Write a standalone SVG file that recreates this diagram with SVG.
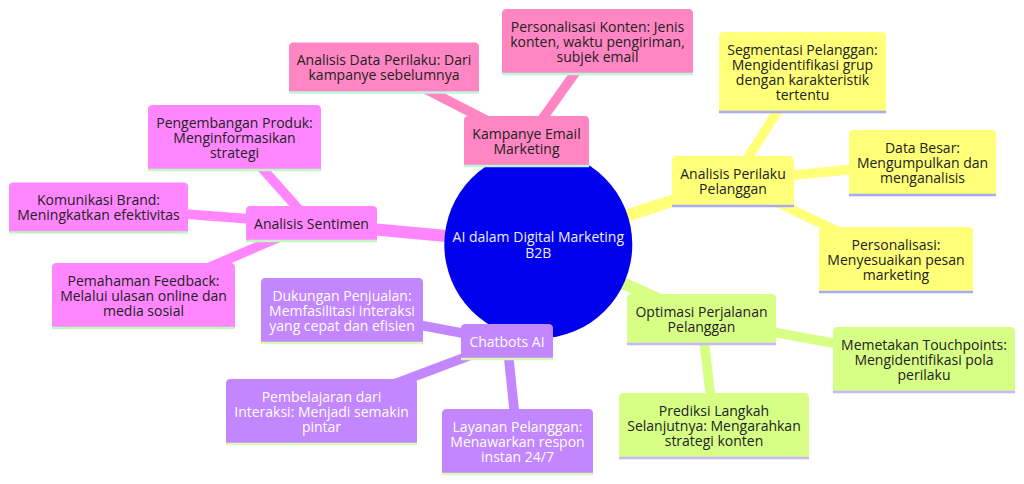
<svg xmlns="http://www.w3.org/2000/svg" width="1024" height="484" viewBox="0 0 1024 484">
<style>
text{font-family:"Open Sans","DejaVu Sans",sans-serif;font-size:14px;text-anchor:middle;fill:#222}
.e1{stroke-width:12.25;stroke-linecap:butt;fill:none}
.e2{stroke-width:9.6;stroke-linecap:butt;fill:none}
.bl{stroke-width:2.6}
.s0 path{fill:#ffff78}.s0 line{stroke:#a9a9f5}.se0{stroke:#ffff78}
.s1 path{fill:#d7ff86}.s1 line{stroke:#c9b6ff}.se1{stroke:#d7ff86}
.s2 path{fill:#c286ff}.s2 line{stroke:#d8fbb8}.se2{stroke:#c286ff}.s2 text{fill:#ffffff}
.s3 path{fill:#ff86ff}.s3 line{stroke:#c2f7c2}.se3{stroke:#ff86ff}
.s4 path{fill:#ff86c2}.s4 line{stroke:#bff5dc}.se4{stroke:#ff86c2}
</style>
<g id="connectors">
<line class="e1 se0" x1="538.3" y1="244.5" x2="733" y2="181"/>
<line class="e2 se0" x1="733" y1="181" x2="802.5" y2="72"/>
<line class="e2 se0" x1="733" y1="181" x2="922.5" y2="162.5"/>
<line class="e2 se0" x1="733" y1="181" x2="896" y2="259.5"/>
<line class="e1 se1" x1="538.3" y1="244.5" x2="701.5" y2="319"/>
<line class="e2 se1" x1="701.5" y1="319" x2="924" y2="359.5"/>
<line class="e2 se1" x1="701.5" y1="319" x2="714" y2="425.5"/>
<line class="e1 se2" x1="538.3" y1="244.5" x2="507" y2="341.5"/>
<line class="e2 se2" x1="507" y1="341.5" x2="342" y2="310.5"/>
<line class="e2 se2" x1="507" y1="341.5" x2="321.5" y2="411.5"/>
<line class="e2 se2" x1="507" y1="341.5" x2="517.5" y2="441.5"/>
<line class="e1 se3" x1="538.3" y1="244.5" x2="311.5" y2="223.5"/>
<line class="e2 se3" x1="311.5" y1="223.5" x2="234.5" y2="137.5"/>
<line class="e2 se3" x1="311.5" y1="223.5" x2="98.5" y2="207.5"/>
<line class="e2 se3" x1="311.5" y1="223.5" x2="143.5" y2="295.5"/>
<line class="e1 se4" x1="538.3" y1="244.5" x2="526.5" y2="141"/>
<line class="e2 se4" x1="526.5" y1="141" x2="384" y2="67.5"/>
<line class="e2 se4" x1="526.5" y1="141" x2="597.5" y2="41.5"/>
</g>

<g id="n-root">
<circle cx="538.3" cy="244.5" r="94" fill="#0000ec"/>
<text x="538.3" y="242" style="fill:#eeeeff">AI dalam Digital Marketing</text>
<text x="538.3" y="257.5" style="fill:#eeeeff">B2B</text>
</g>

<g id="n-perilaku" class="s0" transform="translate(672,156)">
<path d="M0 45.5 v-41 q0,-4.5 4.5,-4.5 h113 q4.5,0 4.5,4.5 v45.5 H0 Z"/><line class="bl" x1="0" y1="50" x2="122" y2="50"/>
<text x="61" y="22.5">Analisis Perilaku</text><text x="61" y="37.5">Pelanggan</text></g>
<g id="n-segmentasi" class="s0" transform="translate(719,32)">
<path d="M0 75.5 v-71 q0,-4.5 4.5,-4.5 h158 q4.5,0 4.5,4.5 v75.5 H0 Z"/><line class="bl" x1="0" y1="80" x2="167" y2="80"/>
<text x="83.5" y="22.5">Segmentasi Pelanggan:</text><text x="83.5" y="37.5">Mengidentifikasi grup</text><text x="83.5" y="52.5">dengan karakteristik</text><text x="83.5" y="67.5">tertentu</text></g>
<g id="n-databesar" class="s0" transform="translate(849,130)">
<path d="M0 60.5 v-56 q0,-4.5 4.5,-4.5 h138 q4.5,0 4.5,4.5 v60.5 H0 Z"/><line class="bl" x1="0" y1="65" x2="147" y2="65"/>
<text x="73.5" y="22.5">Data Besar:</text><text x="73.5" y="37.5">Mengumpulkan dan</text><text x="73.5" y="52.5">menganalisis</text></g>
<g id="n-personalisasi" class="s0" transform="translate(819,227)">
<path d="M0 60.5 v-56 q0,-4.5 4.5,-4.5 h145 q4.5,0 4.5,4.5 v60.5 H0 Z"/><line class="bl" x1="0" y1="65" x2="154" y2="65"/>
<text x="77" y="22.5">Personalisasi:</text><text x="77" y="37.5">Menyesuaikan pesan</text><text x="77" y="52.5">marketing</text></g>

<g id="n-optimasi" class="s1" transform="translate(627,294)">
<path d="M0 45.5 v-41 q0,-4.5 4.5,-4.5 h140 q4.5,0 4.5,4.5 v45.5 H0 Z"/><line class="bl" x1="0" y1="50" x2="149" y2="50"/>
<text x="74.5" y="22.5">Optimasi Perjalanan</text><text x="74.5" y="37.5">Pelanggan</text></g>
<g id="n-memetakan" class="s1" transform="translate(833,327)">
<path d="M0 60.5 v-56 q0,-4.5 4.5,-4.5 h173 q4.5,0 4.5,4.5 v60.5 H0 Z"/><line class="bl" x1="0" y1="65" x2="182" y2="65"/>
<text x="91" y="22.5">Memetakan Touchpoints:</text><text x="91" y="37.5">Mengidentifikasi pola</text><text x="91" y="52.5">perilaku</text></g>
<g id="n-prediksi" class="s1" transform="translate(619,393)">
<path d="M0 60.5 v-56 q0,-4.5 4.5,-4.5 h181 q4.5,0 4.5,4.5 v60.5 H0 Z"/><line class="bl" x1="0" y1="65" x2="190" y2="65"/>
<text x="95" y="22.5">Prediksi Langkah</text><text x="95" y="37.5">Selanjutnya: Mengarahkan</text><text x="95" y="52.5">strategi konten</text></g>

<g id="n-chatbots" class="s2" transform="translate(461,324)">
<path d="M0 30.5 v-26 q0,-4.5 4.5,-4.5 h83 q4.5,0 4.5,4.5 v30.5 H0 Z"/><line class="bl" x1="0" y1="35" x2="92" y2="35"/>
<text x="46" y="22.5">Chatbots AI</text></g>
<g id="n-dukungan" class="s2" transform="translate(261,278)">
<path d="M0 60.5 v-56 q0,-4.5 4.5,-4.5 h153 q4.5,0 4.5,4.5 v60.5 H0 Z"/><line class="bl" x1="0" y1="65" x2="162" y2="65"/>
<text x="81" y="22.5">Dukungan Penjualan:</text><text x="81" y="37.5">Memfasilitasi interaksi</text><text x="81" y="52.5">yang cepat dan efisien</text></g>
<g id="n-pembelajaran" class="s2" transform="translate(226,379)">
<path d="M0 60.5 v-56 q0,-4.5 4.5,-4.5 h182 q4.5,0 4.5,4.5 v60.5 H0 Z"/><line class="bl" x1="0" y1="65" x2="191" y2="65"/>
<text x="95.5" y="22.5">Pembelajaran dari</text><text x="95.5" y="37.5">Interaksi: Menjadi semakin</text><text x="95.5" y="52.5">pintar</text></g>
<g id="n-layanan" class="s2" transform="translate(442,409)">
<path d="M0 60.5 v-56 q0,-4.5 4.5,-4.5 h142 q4.5,0 4.5,4.5 v60.5 H0 Z"/><line class="bl" x1="0" y1="65" x2="151" y2="65"/>
<text x="75.5" y="22.5">Layanan Pelanggan:</text><text x="75.5" y="37.5">Menawarkan respon</text><text x="75.5" y="52.5">instan 24/7</text></g>

<g id="n-sentimen" class="s3" transform="translate(246,206)">
<path d="M0 30.5 v-26 q0,-4.5 4.5,-4.5 h122 q4.5,0 4.5,4.5 v30.5 H0 Z"/><line class="bl" x1="0" y1="35" x2="131" y2="35"/>
<text x="65.5" y="22.5">Analisis Sentimen</text></g>
<g id="n-pengembangan" class="s3" transform="translate(148,105)">
<path d="M0 60.5 v-56 q0,-4.5 4.5,-4.5 h164 q4.5,0 4.5,4.5 v60.5 H0 Z"/><line class="bl" x1="0" y1="65" x2="173" y2="65"/>
<text x="86.5" y="22.5">Pengembangan Produk:</text><text x="86.5" y="37.5">Menginformasikan</text><text x="86.5" y="52.5">strategi</text></g>
<g id="n-komunikasi" class="s3" transform="translate(9,182.5)">
<path d="M0 45.5 v-41 q0,-4.5 4.5,-4.5 h170 q4.5,0 4.5,4.5 v45.5 H0 Z"/><line class="bl" x1="0" y1="50" x2="179" y2="50"/>
<text x="89.5" y="22.5">Komunikasi Brand:</text><text x="89.5" y="37.5">Meningkatkan efektivitas</text></g>
<g id="n-pemahaman" class="s3" transform="translate(52,263)">
<path d="M0 60.5 v-56 q0,-4.5 4.5,-4.5 h174 q4.5,0 4.5,4.5 v60.5 H0 Z"/><line class="bl" x1="0" y1="65" x2="183" y2="65"/>
<text x="91.5" y="22.5">Pemahaman Feedback:</text><text x="91.5" y="37.5">Melalui ulasan online dan</text><text x="91.5" y="52.5">media sosial</text></g>

<g id="n-kampanye" class="s4" transform="translate(464,116)">
<path d="M0 45.5 v-41 q0,-4.5 4.5,-4.5 h116 q4.5,0 4.5,4.5 v45.5 H0 Z"/><line class="bl" x1="0" y1="50" x2="125" y2="50"/>
<text x="62.5" y="22.5">Kampanye Email</text><text x="62.5" y="37.5">Marketing</text></g>
<g id="n-analisisdata" class="s4" transform="translate(289,42.5)">
<path d="M0 45.5 v-41 q0,-4.5 4.5,-4.5 h181 q4.5,0 4.5,4.5 v45.5 H0 Z"/><line class="bl" x1="0" y1="50" x2="190" y2="50"/>
<text x="95" y="22.5">Analisis Data Perilaku: Dari</text><text x="95" y="37.5">kampanye sebelumnya</text></g>
<g id="n-konten" class="s4" transform="translate(502,9)">
<path d="M0 60.5 v-56 q0,-4.5 4.5,-4.5 h182 q4.5,0 4.5,4.5 v60.5 H0 Z"/><line class="bl" x1="0" y1="65" x2="191" y2="65"/>
<text x="95.5" y="22.5">Personalisasi Konten: Jenis</text><text x="95.5" y="37.5">konten, waktu pengiriman,</text><text x="95.5" y="52.5">subjek email</text></g>
</svg>
